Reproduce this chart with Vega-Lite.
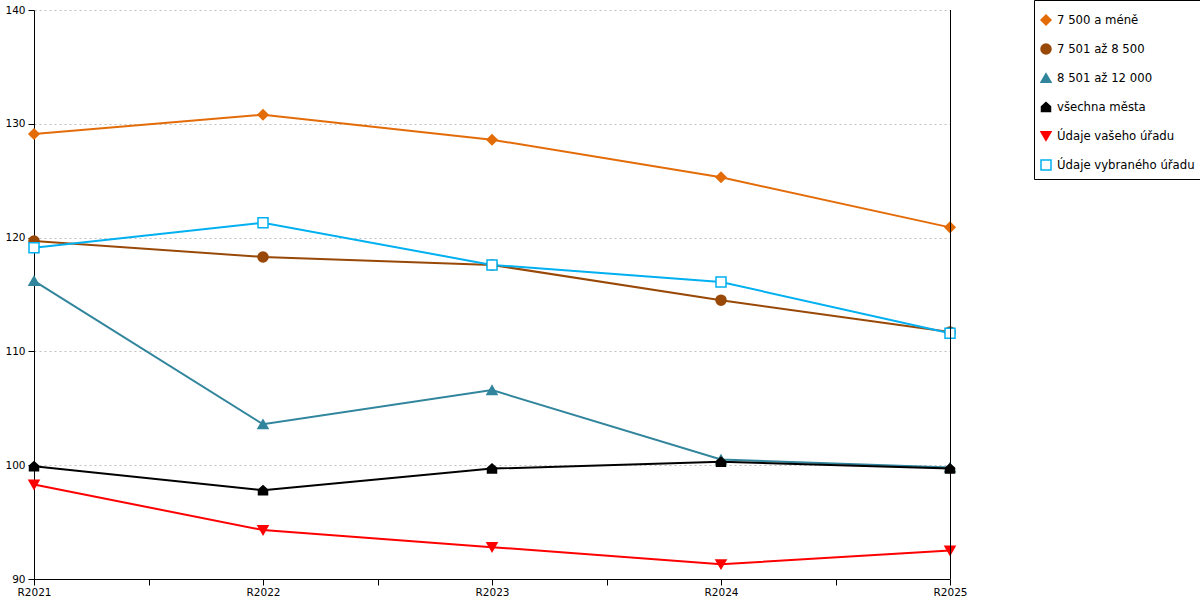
{
  "$schema": "https://vega.github.io/schema/vega-lite/v6.json",
  "width": 916,
  "height": 569,
  "autosize": "none",
  "padding": {"left": 34, "top": 10, "right": 250, "bottom": 21},
  "background": "white",
  "config": {
    "font": "DejaVu Sans",
    "view": {"stroke": null},
    "axis": {"labelColor": "black", "domainColor": "black", "tickColor": "black", "labelFontSize": 10.5, "labelFont": "DejaVu Sans"},
    "legend": {"labelFontSize": 11.7, "labelColor": "black", "labelFont": "DejaVu Sans"}
  },
  "datasets": {
    "index": [
      {"series": "7 500 a méně", "year": 2021, "value": 129.1},
      {"series": "7 500 a méně", "year": 2022, "value": 130.8},
      {"series": "7 500 a méně", "year": 2023, "value": 128.6},
      {"series": "7 500 a méně", "year": 2024, "value": 125.3},
      {"series": "7 500 a méně", "year": 2025, "value": 120.9},
      {"series": "7 501 až 8 500", "year": 2021, "value": 119.7},
      {"series": "7 501 až 8 500", "year": 2022, "value": 118.3},
      {"series": "7 501 až 8 500", "year": 2023, "value": 117.6},
      {"series": "7 501 až 8 500", "year": 2024, "value": 114.5},
      {"series": "7 501 až 8 500", "year": 2025, "value": 111.7},
      {"series": "8 501 až 12 000", "year": 2021, "value": 116.2},
      {"series": "8 501 až 12 000", "year": 2022, "value": 103.6},
      {"series": "8 501 až 12 000", "year": 2023, "value": 106.6},
      {"series": "8 501 až 12 000", "year": 2024, "value": 100.5},
      {"series": "8 501 až 12 000", "year": 2025, "value": 99.8},
      {"series": "všechna města", "year": 2021, "value": 99.9},
      {"series": "všechna města", "year": 2022, "value": 97.8},
      {"series": "všechna města", "year": 2023, "value": 99.7},
      {"series": "všechna města", "year": 2024, "value": 100.3},
      {"series": "všechna města", "year": 2025, "value": 99.7},
      {"series": "Údaje vašeho úřadu", "year": 2021, "value": 98.3},
      {"series": "Údaje vašeho úřadu", "year": 2022, "value": 94.3},
      {"series": "Údaje vašeho úřadu", "year": 2023, "value": 92.8},
      {"series": "Údaje vašeho úřadu", "year": 2024, "value": 91.3},
      {"series": "Údaje vašeho úřadu", "year": 2025, "value": 92.5},
      {"series": "Údaje vybraného úřadu", "year": 2021, "value": 119.1},
      {"series": "Údaje vybraného úřadu", "year": 2022, "value": 121.3},
      {"series": "Údaje vybraného úřadu", "year": 2023, "value": 117.6},
      {"series": "Údaje vybraného úřadu", "year": 2024, "value": 116.1},
      {"series": "Údaje vybraného úřadu", "year": 2025, "value": 111.6}
    ],
    "edge": [{"from": 90, "to": 140, "year": 2025}]
  },
  "layer": [
    {
      "data": {"name": "index"},
      "mark": {"type": "line", "strokeWidth": 2},
      "encoding": {
        "x": {
          "field": "year",
          "type": "quantitative",
          "scale": {"domain": [2021, 2025], "nice": false, "zero": false},
          "axis": {
            "title": null,
            "grid": false,
            "values": [2021, 2021.5, 2022, 2022.5, 2023, 2023.5, 2024, 2024.5, 2025],
            "labelExpr": "datum.value % 1 == 0 ? 'R' + datum.value : ''",
            "tickSize": 6,
            "labelPadding": 2,
            "labelFlush": false
          }
        },
        "y": {
          "field": "value",
          "type": "quantitative",
          "scale": {"domain": [90, 140], "nice": false, "zero": false},
          "axis": {
            "title": null,
            "values": [90, 100, 110, 120, 130, 140],
            "tickSize": 6,
            "labelPadding": 3,
            "gridColor": "#c0c0c0",
            "gridDash": [2, 3],
            "labelFlush": false
          }
        },
        "stroke": {
          "field": "series",
          "type": "nominal",
          "scale": {
            "domain": ["7 500 a méně", "7 501 až 8 500", "8 501 až 12 000", "všechna města", "Údaje vašeho úřadu", "Údaje vybraného úřadu"],
            "range": ["#E36C09", "#984807", "#31859C", "#000000", "#FF0000", "#00B0F0"]
          },
          "legend": {
            "title": " ",
            "titleFontSize": 5,
            "titlePadding": 3,
            "orient": "none",
            "legendX": 1000,
            "legendY": -10,
            "padding": 6,
            "strokeColor": "black",
            "fillColor": "white",
            "symbolSize": 100,
            "symbolStrokeWidth": 1.5,
            "rowPadding": 13,
            "labelOffset": 5
          }
        }
      }
    },
    {
      "data": {"name": "index"},
      "mark": {"type": "point", "size": 100, "strokeWidth": 1.5, "opacity": 1},
      "encoding": {
        "x": {"field": "year", "type": "quantitative"},
        "y": {"field": "value", "type": "quantitative"},
        "stroke": {"field": "series", "type": "nominal"},
        "fill": {
          "field": "series",
          "type": "nominal",
          "scale": {
            "domain": ["7 500 a méně", "7 501 až 8 500", "8 501 až 12 000", "všechna města", "Údaje vašeho úřadu", "Údaje vybraného úřadu"],
            "range": ["#E36C09", "#984807", "#31859C", "#000000", "#FF0000", "#FFFFFF"]
          }
        },
        "shape": {
          "field": "series",
          "type": "nominal",
          "scale": {
            "domain": ["7 500 a méně", "7 501 až 8 500", "8 501 až 12 000", "všechna města", "Údaje vašeho úřadu", "Údaje vybraného úřadu"],
            "range": ["diamond", "circle", "triangle-up", "M-0.9,0.9L0.9,0.9L0.9,-0.1L0,-0.9L-0.9,-0.1Z", "triangle-down", "square"]
          }
        }
      }
    },
    {
      "data": {"name": "edge"},
      "mark": {"type": "rule", "color": "black", "strokeWidth": 1, "xOffset": 0.5},
      "encoding": {
        "x": {"field": "year", "type": "quantitative"},
        "y": {"field": "from", "type": "quantitative"},
        "y2": {"field": "to"}
      }
    }
  ]
}
